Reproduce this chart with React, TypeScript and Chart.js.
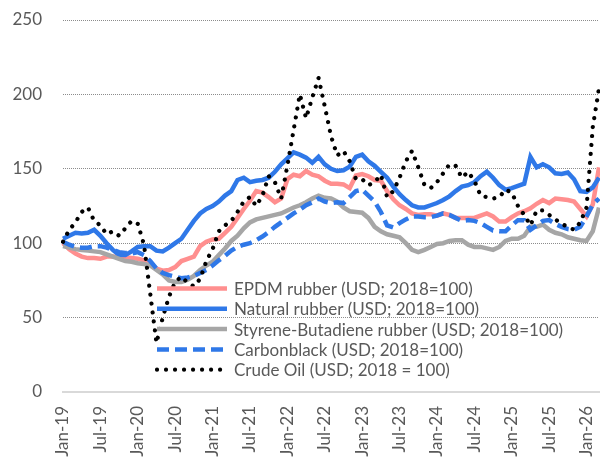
import React, { useEffect, useRef } from "react";
import { Chart, registerables } from "chart.js";

Chart.register(...registerables);

const MONTHS = ["Jan", "Feb", "Mar", "Apr", "May", "Jun", "Jul", "Aug", "Sep", "Oct", "Nov", "Dec"];
const YEARS = ["19", "20", "21", "22", "23", "24", "25", "26"];
const categories: string[] = [];
YEARS.forEach((y) => MONTHS.forEach((m) => categories.push(`${m}-${y}`)));
categories.splice(87); // Jan-19 .. Mar-26

const yTicks = [0, 50, 100, 150, 200, 250];

const epdm = [
  100, 96, 93, 91, 90, 90, 89.5, 91, 91, 90.5, 90.5, 90, 89.5, 88.5, 86, 83, 81.5, 82, 84, 88, 89.5, 91,
  98, 101, 102.5, 103, 107, 111, 117, 123, 128.5, 135, 134, 131, 127.5, 130, 143, 146, 145, 148.5, 146, 145, 142, 140,
  140, 139.5, 137, 145.5, 146.5, 145, 142.5, 142, 135, 129.5, 125.5, 123, 120, 119, 119.5, 119.5, 118.5, 120, 119, 117, 117,
  117, 117, 118.5, 120, 118, 114.5, 114.5, 117.5, 120, 121.5, 123.5, 126.5, 129, 127, 130, 129.5, 129, 128, 123, 118, 126, 151,
];

const naturalRubber = [
  103, 105, 107, 106.5, 107, 109, 105, 100, 95.5, 92, 92, 94.5, 97.5, 98, 98, 95, 94.5, 97, 100, 103, 109, 115,
  120, 123, 125, 128, 132, 135, 142.5, 144, 141, 142, 142.5, 144, 148, 153, 157, 161, 159.5, 157.5, 154, 158, 153, 150,
  148.5, 149, 151.5, 158, 159.5, 155, 152, 148, 144, 138, 133, 129, 125.5, 124, 124, 125.5, 127, 129, 131.5, 135, 138,
  139, 141, 145, 148, 144, 139, 136, 137, 138.5, 140, 158, 151, 153, 151, 147, 146.5, 147.5, 143, 135, 134.5, 137.5, 144,
];

const sbr = [
  98, 97, 96, 95.5, 95, 94.5, 94, 92.5, 91, 89.5, 88, 87.5, 86.5, 86, 85, 82, 79, 75, 74, 74, 75.5, 78,
  82, 85, 87.5, 92, 96.5, 101.5, 105, 110, 114, 116, 117, 118, 119, 120, 122, 124, 125.5, 127.5, 130, 132, 130.5, 130,
  128, 124, 121.5, 121, 120.5, 117, 111, 108, 106, 105, 104, 100, 95.5, 94, 95.5, 97.5, 99.5, 100, 101.5, 102, 102,
  99, 97.5, 97.5, 96.5, 95.5, 97.5, 101.5, 103, 103, 105, 111, 111, 112.5, 109, 107, 106, 104, 103, 102, 101.5, 108, 124,
];

const carbonblack = [
  101, 99, 97.5, 97, 97, 98, 98, 97, 95.5, 94, 93.5, 93, 94, 92, 88, 83, 80, 78.5, 77.5, 76.5, 77, 78,
  80, 82, 85, 88.5, 91.5, 95, 97.5, 99, 100, 102, 104.5, 107.5, 111, 114, 117, 120, 122.5, 125.5, 127.5, 130, 128, 127,
  127.5, 127, 131, 135, 136, 132, 128, 121, 112, 110.5, 113.5, 116, 118, 118, 117.5, 117.5, 118.5, 120, 119, 117, 115,
  115.5, 115, 113.5, 111, 108.5, 108, 108, 112, 115.5, 115.5, 109, 112, 115, 115.5, 113, 111, 109.5, 109, 111, 118, 126, 130,
];

const crudeOil = [
  101, 109, 114, 121, 124, 115, 112, 106, 108, 105, 110, 115, 113, 99, 66, 33, 50, 64, 74, 77.5, 73.5, 71,
  76, 88, 96, 108, 112, 115, 121, 128, 131, 125, 132, 145, 141, 130, 152, 176, 200, 184, 198, 211, 192, 172,
  159, 162, 155, 143, 143, 139, 141, 146, 131, 135, 144, 155, 162, 151, 139, 137, 141, 147, 153, 152, 144,
  148, 142, 132, 131, 130, 131, 136, 134, 125, 119, 112, 122, 122, 119, 116, 113, 111, 109, 114, 124, 178, 204,
];

const seriesLabels = [
  "EPDM rubber (USD; 2018=100)",
  "Natural rubber (USD; 2018=100)",
  "Styrene-Butadiene rubber (USD; 2018=100)",
  "Carbonblack (USD; 2018=100)",
  "Crude Oil (USD; 2018 = 100)",
];

const FONT = "Lato, 'Open Sans', sans-serif";
const FONT_SIZE = 17;
const TEXT = "#595959";

const legendPlugin = {
  id: "insideLegend",
  afterDatasetsDraw(chart: any) {
    const ctx = chart.ctx as CanvasRenderingContext2D;
    const area = chart.chartArea;
    const x0 = area.left + 94;
    const x1 = x0 + 70;
    const tx = x1 + 7;
    const yStart = 288.5;
    const dy = 20.3;
    ctx.save();
    chart.data.datasets.forEach((ds: any, k: number) => {
      const y = yStart + k * dy;
      ctx.beginPath();
      ctx.setLineDash(ds.borderDash || []);
      ctx.lineCap = ds.borderCapStyle || "butt";
      ctx.lineWidth = ds.borderWidth;
      ctx.strokeStyle = ds.borderColor;
      ctx.moveTo(x0, y);
      ctx.lineTo(x1, y);
      ctx.stroke();
      ctx.setLineDash([]);
      ctx.fillStyle = TEXT;
      ctx.font = `${FONT_SIZE}px ${FONT}`;
      ctx.textBaseline = "middle";
      ctx.textAlign = "left";
      ctx.fillText(ds.label, tx, y + 1);
    });
    ctx.restore();
  },
};

export default function App() {
  const ref = useRef<HTMLCanvasElement | null>(null);

  useEffect(() => {
    document.body.style.margin = "0";
    if (!ref.current) return;
    const chart = new Chart(ref.current, {
      type: "line",
      data: {
        labels: categories,
        datasets: [
          {
            label: seriesLabels[0],
            data: epdm,
            borderColor: "#FF8F8F",
            borderWidth: 4.5,
            pointRadius: 0,
            tension: 0,
            order: 5,
          },
          {
            label: seriesLabels[1],
            data: naturalRubber,
            borderColor: "#2F78E8",
            borderWidth: 4.5,
            pointRadius: 0,
            tension: 0,
            order: 4,
          },
          {
            label: seriesLabels[2],
            data: sbr,
            borderColor: "#A6A6A6",
            borderWidth: 4.5,
            pointRadius: 0,
            tension: 0,
            order: 3,
          },
          {
            label: seriesLabels[3],
            data: carbonblack,
            borderColor: "#2F78E8",
            borderWidth: 4.5,
            borderDash: [12, 6],
            pointRadius: 0,
            tension: 0,
            order: 2,
          },
          {
            label: seriesLabels[4],
            data: crudeOil,
            borderColor: "#000000",
            borderWidth: 4.2,
            borderDash: [0.01, 9],
            borderCapStyle: "round",
            pointRadius: 0,
            tension: 0,
            order: 1,
          },
        ] as any,
      },
      options: {
        animation: false,
        responsive: true,
        maintainAspectRatio: false,
        layout: { padding: { top: 20, right: 1, left: 0, bottom: 0 } },
        plugins: { legend: { display: false }, tooltip: { enabled: false } },
        scales: {
          x: {
            type: "category",
            offset: false,
            grid: { display: false, drawTicks: false },
            border: { display: true, color: "#D9D9D9", width: 2 },
            ticks: {
              autoSkip: false,
              maxRotation: 90,
              minRotation: 90,
              padding: 14,
              color: TEXT,
              font: { family: FONT, size: FONT_SIZE },
              callback: (_v: any, i: number) => (i % 6 === 0 ? categories[i] : ""),
            },
            afterFit: (s: any) => {
              s.height = 67;
              s.paddingLeft = 0;
              s.paddingRight = 0;
            },
          },
          y: {
            min: yTicks[0],
            max: yTicks[yTicks.length - 1],
            ticks: {
              stepSize: 50,
              padding: 21,
              color: TEXT,
              font: { family: FONT, size: FONT_SIZE },
            },
            grid: {
              drawTicks: false,
              color: (c: any) => (c.tick && c.tick.value === 0 ? "rgba(0,0,0,0)" : "#8C8C8C"),
              lineWidth: 1,
            },
            border: { display: false, dash: [1, 1] },
            afterFit: (s: any) => {
              s.width = 63;
              s.paddingTop = 0;
              s.paddingBottom = 0;
            },
          },
        },
      } as any,
      plugins: [legendPlugin],
    });
    return () => chart.destroy();
  }, []);

  return (
    <div style={{ position: "absolute", left: 0, top: 0, width: 600, height: 459 }}>
      <canvas ref={ref} />
    </div>
  );
}
